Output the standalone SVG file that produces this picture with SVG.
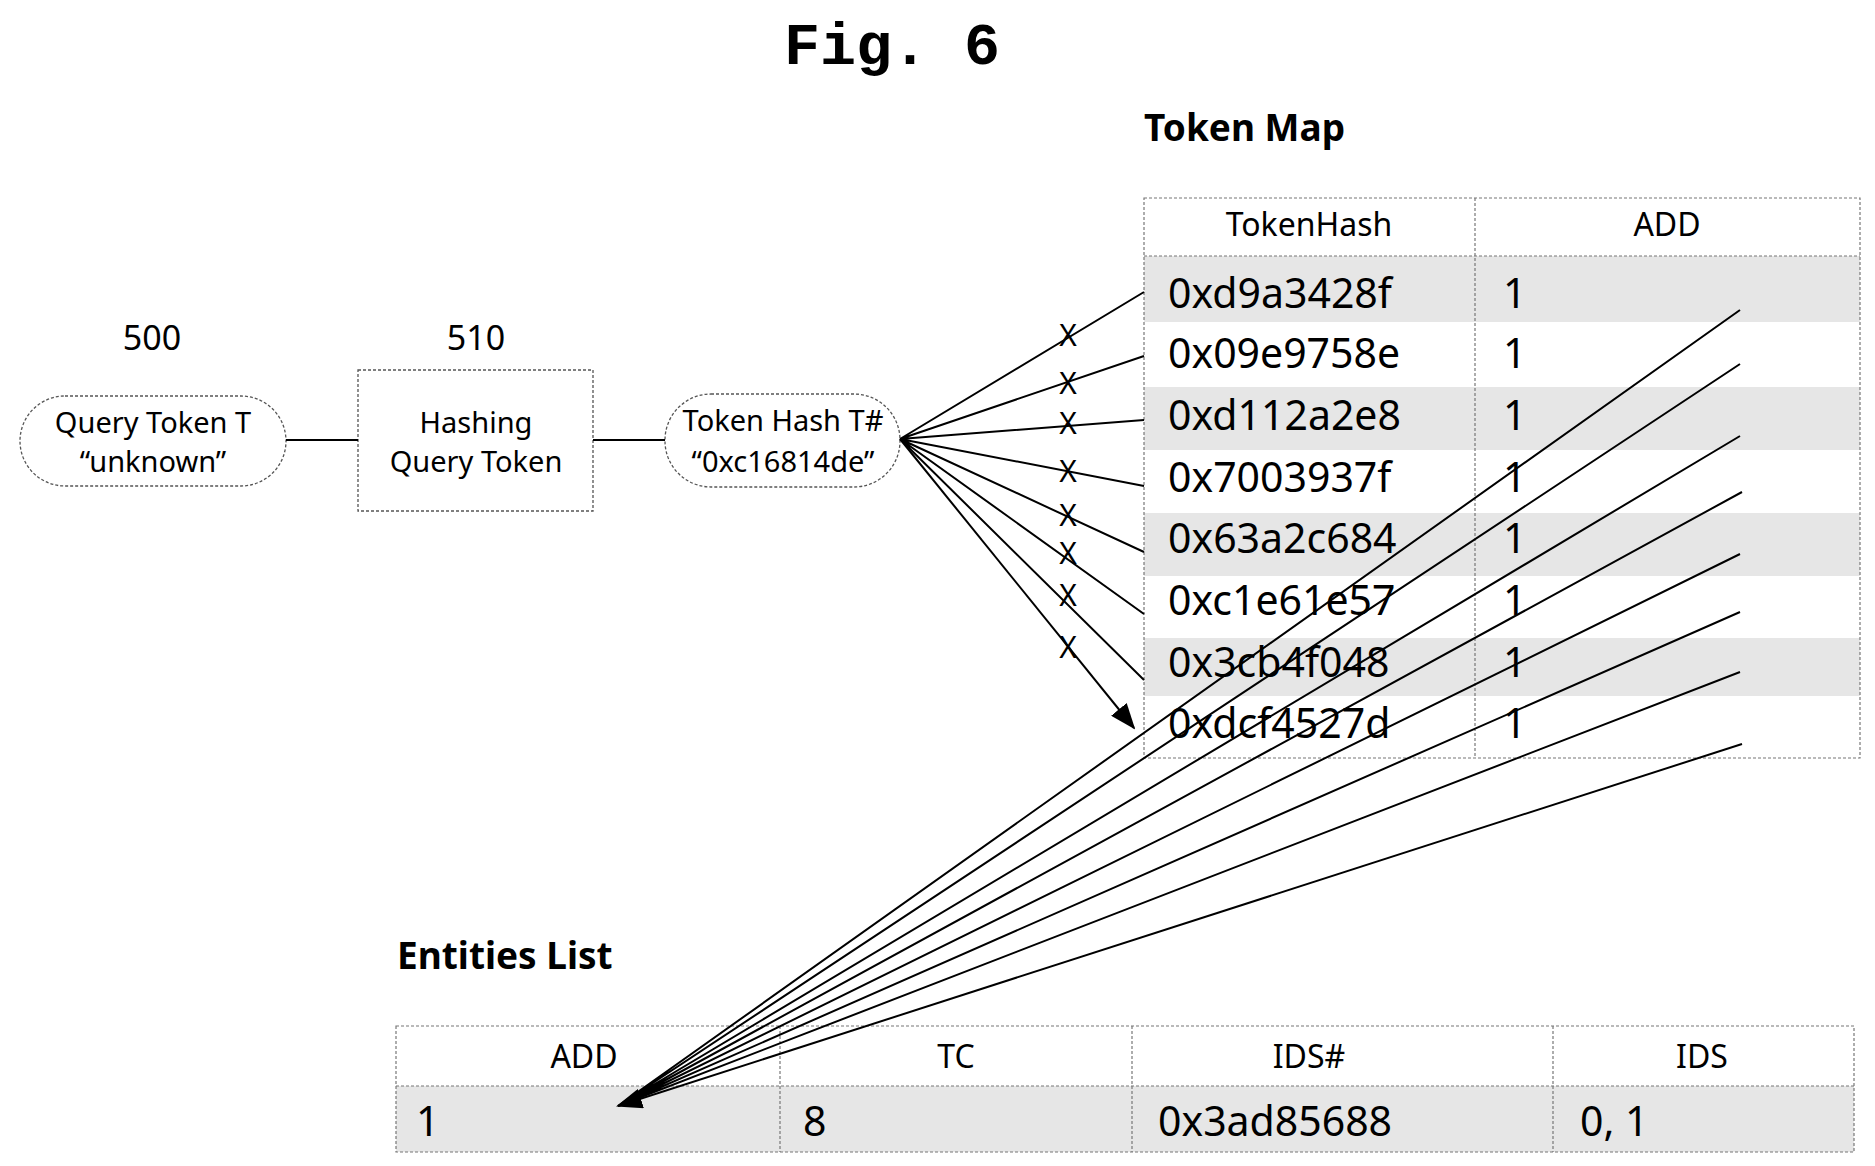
<svg xmlns="http://www.w3.org/2000/svg" width="1875" height="1166" viewBox="0 0 1875 1166">
<style>
text{font-family:"Noto Sans","Liberation Sans",sans-serif;fill:#000}
.lbl{font-size:29px;text-anchor:middle}
.num{font-size:34px;text-anchor:middle}
.hdr{font-size:32px;text-anchor:middle}
.cell{font-size:41px}
.ttl{font-size:37px;font-weight:bold}
.x{font-size:30px;text-anchor:middle}
.bd{fill:#fff;stroke:#555;stroke-width:1.3;stroke-dasharray:3 2}
.sh{fill:#e6e6e6}
.ln{stroke:#000;stroke-width:2;fill:none}
.grid{stroke:#777;stroke-width:1.2;stroke-dasharray:3 2;fill:none}
</style>
<defs>
<marker id="ah" markerWidth="13" markerHeight="10" refX="12" refY="5" orient="auto" markerUnits="strokeWidth">
<path d="M0,0 L13,5 L0,10 z" fill="#000"/>
</marker>
</defs>
<text x="892" y="64" style="font-family:'Liberation Mono',monospace;font-size:60px;font-weight:bold" text-anchor="middle">Fig. 6</text>

<g id="n500">
<text class="num" x="152" y="350">500</text>
<rect class="bd" x="20" y="396" width="266" height="90" rx="45"/>
<text class="lbl" x="153" y="433">Query Token T</text>
<text class="lbl" x="153" y="472">“unknown”</text>
</g>
<g id="n510">
<text class="num" x="476" y="350">510</text>
<rect class="bd" x="358" y="370" width="235" height="141"/>
<text class="lbl" x="476" y="433">Hashing</text>
<text class="lbl" x="476" y="472">Query Token</text>
</g>
<g id="hash">
<rect class="bd" x="665" y="394" width="235" height="93" rx="46"/>
<text class="lbl" x="783" y="431">Token Hash T#</text>
<text class="lbl" x="783" y="472">“0xc16814de”</text>
</g>

<g id="tokenmap">
<text class="ttl" x="1144" y="141">Token Map</text>
<rect x="1144" y="198" width="716" height="560" fill="#fff"/>
<rect class="sh" x="1144" y="256" width="716" height="66"/>
<rect class="sh" x="1144" y="387" width="716" height="63"/>
<rect class="sh" x="1144" y="513" width="716" height="63"/>
<rect class="sh" x="1144" y="638" width="716" height="58"/>
<rect class="grid" x="1144" y="198" width="716" height="560"/>
<path class="grid" d="M1475,198 V758 M1144,256 H1860"/>
<text class="hdr" x="1309" y="236">TokenHash</text>
<text class="hdr" x="1667" y="236">ADD</text>
<g class="cell">
<text x="1168" y="308">0xd9a3428f</text><text x="1503" y="308">1</text>
<text x="1168" y="368">0x09e9758e</text><text x="1503" y="368">1</text>
<text x="1168" y="430">0xd112a2e8</text><text x="1503" y="430">1</text>
<text x="1168" y="492">0x7003937f</text><text x="1503" y="492">1</text>
<text x="1168" y="553">0x63a2c684</text><text x="1503" y="553">1</text>
<text x="1168" y="615">0xc1e61e57</text><text x="1503" y="615">1</text>
<text x="1168" y="677">0x3cb4f048</text><text x="1503" y="677">1</text>
<text x="1168" y="738">0xdcf4527d</text><text x="1503" y="738">1</text>
</g>
</g>

<g id="entities">
<text class="ttl" x="397" y="969">Entities List</text>
<rect x="396" y="1026" width="1458" height="126" fill="#fff"/>
<rect class="sh" x="396" y="1086" width="1458" height="66"/>
<rect class="grid" x="396" y="1026" width="1458" height="126"/>
<path class="grid" d="M780,1026 V1152 M1132,1026 V1152 M1553,1026 V1152 M396,1086 H1854"/>
<text class="hdr" x="584" y="1068">ADD</text>
<text class="hdr" x="956" y="1068">TC</text>
<text class="hdr" x="1309" y="1068">IDS#</text>
<text class="hdr" x="1702" y="1068">IDS</text>
<g class="cell">
<text x="416" y="1136">1</text>
<text x="803" y="1136">8</text>
<text x="1158" y="1136">0x3ad85688</text>
<text x="1580" y="1136">0, 1</text>
</g>
</g>

<g id="connectors">
<path class="ln" d="M286,440 H358 M593,440 H665"/>
<path class="ln" d="M900,439 L1144,292 M900,439 L1144,356 M900,439 L1144,420 M900,439 L1144,486 M900,439 L1144,552 M900,439 L1144,614 M900,439 L1144,680"/>
<path class="ln" d="M900,439 L1134,728" marker-end="url(#ah)"/>
<path class="ln" d="M1740,310 L618,1106 M1740,364 L618,1106 M1740,436 L618,1106 M1742,492 L618,1106 M1740,554 L618,1106 M1740,612 L618,1106 M1740,672 L618,1106"/>
<path class="ln" d="M1742,744 L618,1106" marker-end="url(#ah)"/>
<g class="x">
<text x="1068" y="346">X</text>
<text x="1068" y="394">X</text>
<text x="1068" y="434">X</text>
<text x="1068" y="482">X</text>
<text x="1068" y="526">X</text>
<text x="1068" y="564">X</text>
<text x="1068" y="606">X</text>
<text x="1068" y="658">X</text>
</g>
</g>
</svg>
